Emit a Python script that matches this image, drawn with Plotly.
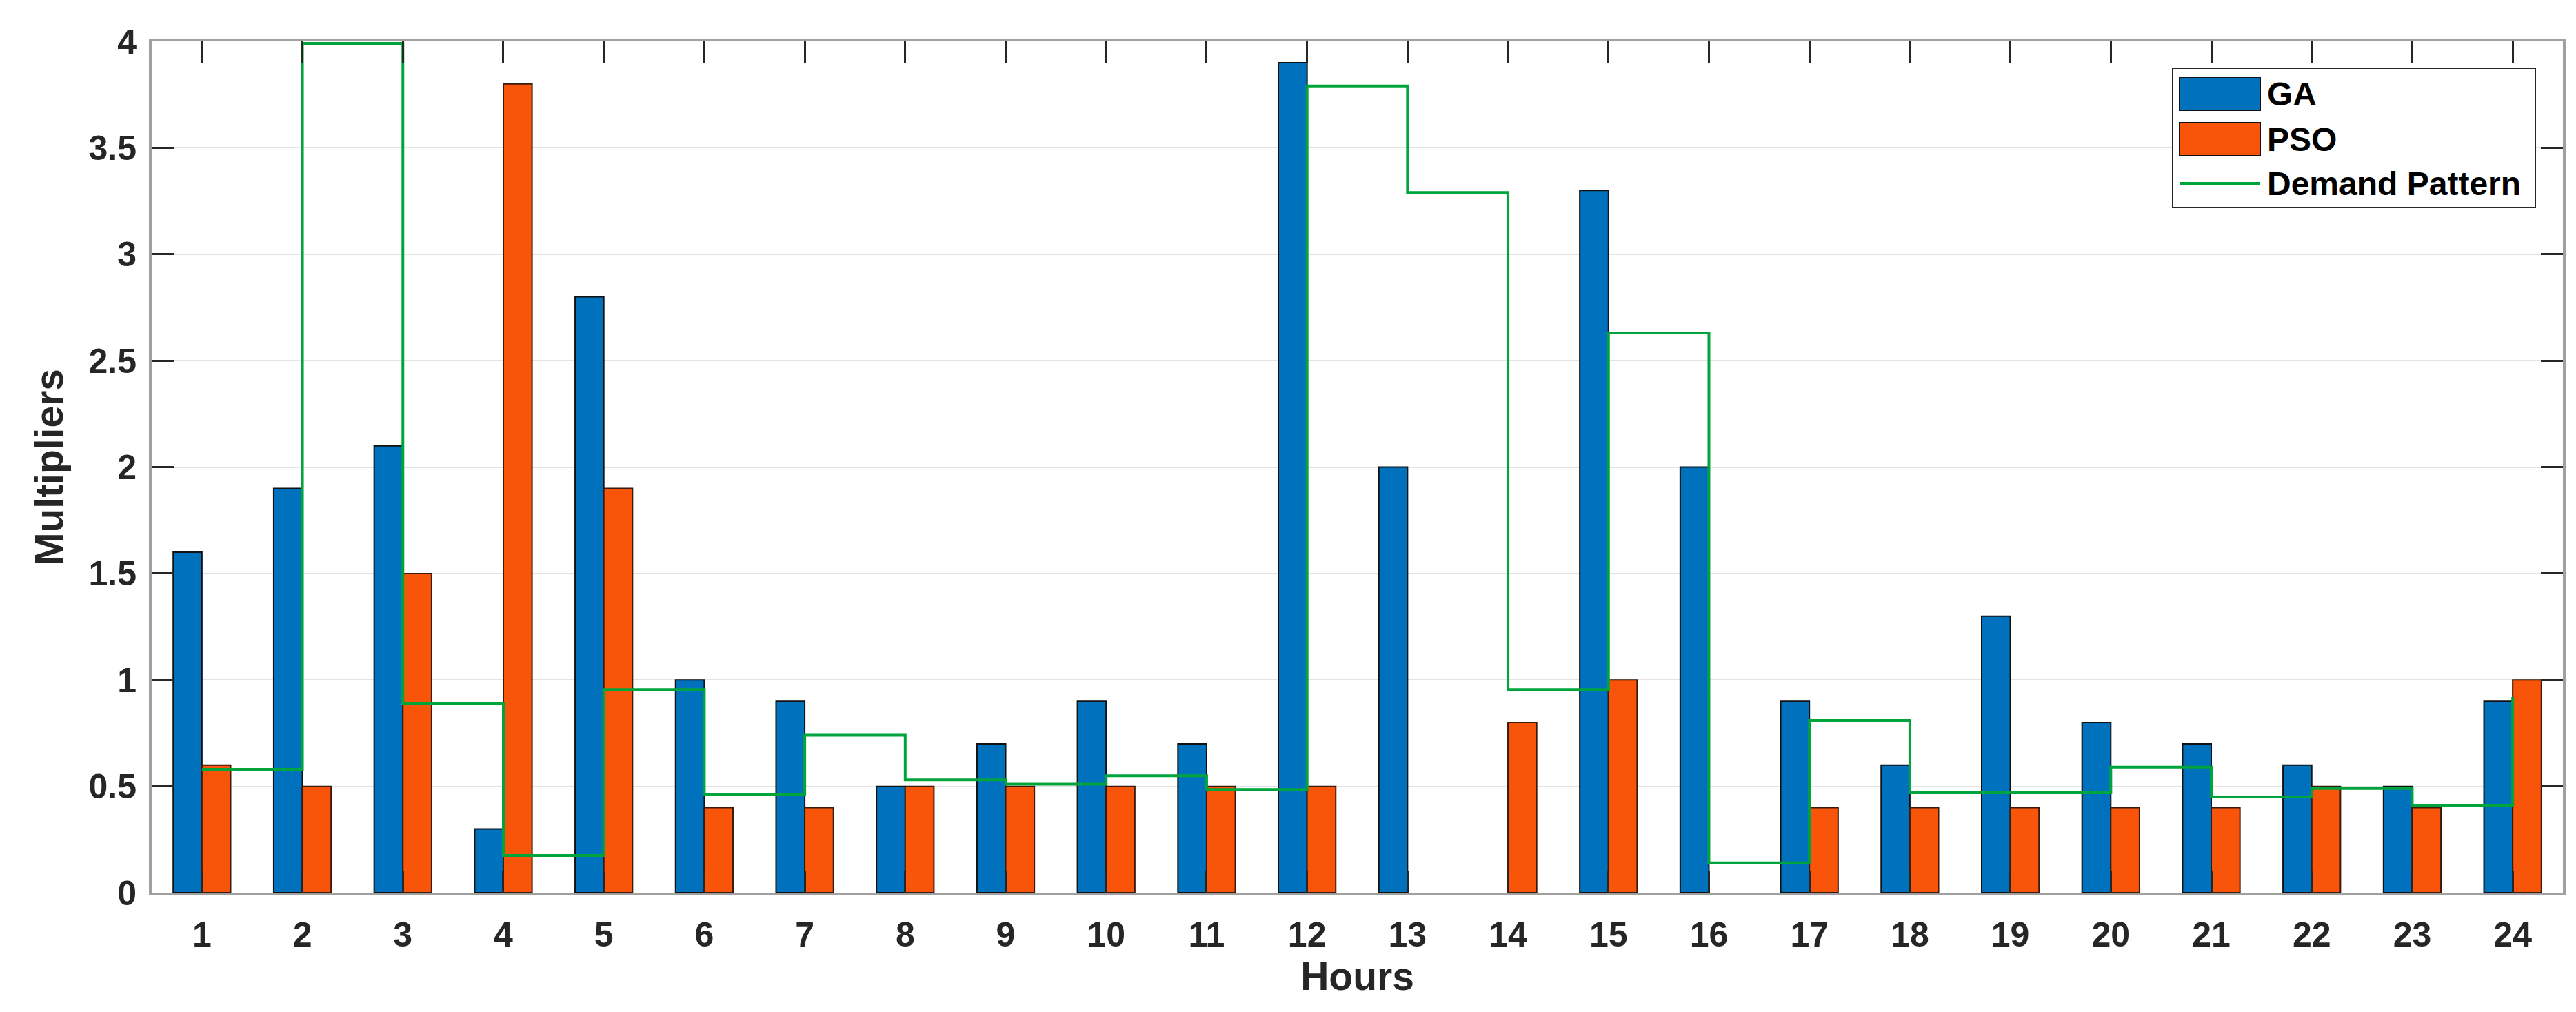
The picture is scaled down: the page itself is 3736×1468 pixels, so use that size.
import plotly.graph_objects as go

hours = list(range(1, 25))
ga = [1.6, 1.9, 2.1, 0.3, 2.8, 1.0, 0.9, 0.5, 0.7, 0.9, 0.7, 3.9,
      2.0, None, 3.3, 2.0, 0.9, 0.6, 1.3, 0.8, 0.7, 0.6, 0.5, 0.9]
pso = [0.6, 0.5, 1.5, 3.8, 1.9, 0.4, 0.4, 0.5, 0.5, 0.5, 0.5, 0.5,
       None, 0.8, 1.0, None, 0.4, 0.4, 0.4, 0.4, 0.4, 0.5, 0.4, 1.0]
demand = [0.58, 3.99, 0.89, 0.175, 0.955, 0.46, 0.74, 0.53, 0.51, 0.55, 0.485, 3.79,
          3.29, 0.955, 2.63, 0.14, 0.81, 0.47, 0.47, 0.59, 0.45, 0.49, 0.41, 0.92]
y_ticks = [0, 0.5, 1, 1.5, 2, 2.5, 3, 3.5, 4]
y_ticklabels = ["0", "0.5", "1", "1.5", "2", "2.5", "3", "3.5", "4"]
series_names = ["GA", "PSO", "Demand Pattern"]

FONT = "Liberation Sans, Arial, Helvetica, sans-serif"
TXT = "#262626"
BLUE = "#0072BD"
ORANGE = "#F8540A"
GREEN = "#00A43C"

W, H = 3736, 1468
ML, MR, MT, MB = 212, 27, 52, 181
PW, PH = W - ML - MR, H - MT - MB


def px_x(x):
    return (x - ML) / PW


def px_y(y):
    return (H - MB - y) / PH


fig = go.Figure()
fig.add_trace(go.Bar(x=hours, y=ga, name=series_names[0],
                     marker=dict(color=BLUE, line=dict(color="#111111", width=2))))
fig.add_trace(go.Bar(x=hours, y=pso, name=series_names[1],
                     marker=dict(color=ORANGE, line=dict(color="#3a1a0a", width=2))))
fig.add_trace(go.Scatter(x=hours, y=demand, name=series_names[2], mode="lines",
                         line=dict(color=GREEN, width=4, shape="hv")))

# custom legend (MATLAB style) in paper coordinates
shapes = []
annotations = []
box = dict(x0=3143, x1=3669, y0=91, y1=293)
shapes.append(dict(type="rect", xref="paper", yref="paper",
                   x0=px_x(box["x0"]), x1=px_x(box["x1"]),
                   y0=px_y(box["y1"]), y1=px_y(box["y0"]),
                   fillcolor="white", line=dict(color="#262626", width=2), layer="above"))
row_centers = [128, 194, 258]
sw_x0, sw_x1, sw_h = 3153, 3270, 48
for i, (name, yc) in enumerate(zip(series_names, row_centers)):
    if i < 2:
        col = BLUE if i == 0 else ORANGE
        shapes.append(dict(type="rect", xref="paper", yref="paper",
                           x0=px_x(sw_x0), x1=px_x(sw_x1),
                           y0=px_y(yc + sw_h / 2), y1=px_y(yc - sw_h / 2),
                           fillcolor=col, line=dict(color="#111111", width=2), layer="above"))
    else:
        shapes.append(dict(type="line", xref="paper", yref="paper",
                           x0=px_x(sw_x0), x1=px_x(sw_x1),
                           y0=px_y(yc), y1=px_y(yc),
                           line=dict(color=GREEN, width=4), layer="above"))
    annotations.append(dict(xref="paper", yref="paper", x=px_x(3278), y=px_y(yc),
                            xanchor="left", yanchor="middle", showarrow=False,
                            text=name,
                            font=dict(family=FONT, size=48, color="#000000", weight="bold")))

fig.update_layout(
    width=W, height=H,
    margin=dict(l=ML, r=MR, t=MT, b=MB),
    paper_bgcolor="white", plot_bgcolor="white",
    barmode="group", bargap=0.4286, bargroupgap=0,
    font=dict(family=FONT, color=TXT),
    showlegend=False,
    shapes=shapes,
    annotations=annotations,
)
fig.update_xaxes(
    range=[0.5, 24.5], tickmode="array", tickvals=hours,
    ticktext=[str(h) for h in hours],
    ticks="inside", ticklen=32, tickwidth=3, tickcolor="#262626",
    showline=True, linecolor="#A0A0A0", linewidth=4, mirror="ticks",
    showgrid=False, zeroline=False,
    tickfont=dict(family=FONT, size=50, color=TXT, weight="bold"),
    ticklabelstandoff=14,
    title=dict(text="Hours", font=dict(family=FONT, size=57, color=TXT, weight="bold"),
               standoff=10),
)
fig.update_yaxes(
    range=[0, 4], tickmode="array", tickvals=y_ticks, ticktext=y_ticklabels,
    ticks="inside", ticklen=32, tickwidth=3, tickcolor="#262626",
    showline=True, linecolor="#A0A0A0", linewidth=4, mirror="ticks",
    showgrid=True, gridcolor="#E3E3E3", gridwidth=2, zeroline=False,
    tickfont=dict(family=FONT, size=50, color=TXT, weight="bold"),
    ticklabelstandoff=8,
    title=dict(text="Multipliers", font=dict(family=FONT, size=57, color=TXT, weight="bold"),
               standoff=20),
)

fig.write_html("out.html")
